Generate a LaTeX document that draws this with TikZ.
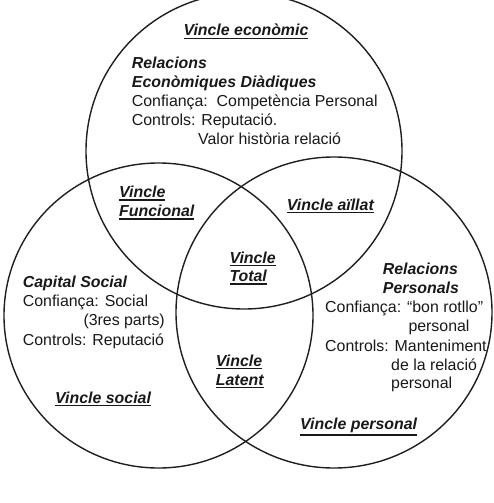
\documentclass[tikz,border=0pt]{standalone}
\usepackage{fontspec}
\setmainfont{Liberation Sans}
\newcommand\uln[1]{\leavevmode\vtop{\hbox{#1}\kern1.6pt\hrule height 1.4pt}}
\begin{document}
\begin{tikzpicture}[x=1pt,y=-1pt,
  every node/.style={inner sep=0pt, anchor=base west, text=black!90, font=\fontsize{15.9}{19}\selectfont},
  ring/.style={draw=black!88, line width=1.4pt},
  head/.style={font=\fontsize{15.9}{19}\selectfont\bfseries\itshape}]
\useasboundingbox (0,0) rectangle (493,503);
% circles
\draw[ring] (244,151) ellipse [x radius=158pt, y radius=158pt];
\draw[ring] (158.5,315.5) ellipse [x radius=154.5pt, y radius=152.5pt];
\draw[ring] (334,312.5) ellipse [x radius=158pt, y radius=155.5pt];
% top block
\node[head] (econ) at (183.3,36) {\uln{Vincle econòmic}};
\node[head] (rel1) at (131.7,68) {Relacions};
\node[head] (rel2) at (131.7,87) {Econòmiques Diàdiques};
\node (conf1) at (131.7,106) {Confiança:\ \ Competència Personal};
\node (ctrl1) at (131.7,125) {Controls: Reputació.};
\node (val1) at (198,144) {Valor història relació};
% left block
\node[head] (func1) at (119,197.7) {\uln{Vincle}};
\node[head] (func2) at (119,216.7) {\uln{Funcional}};
\node[head] (cap) at (22.7,287.3) {Capital Social};
\node (conf2) at (22.7,306.5) {Confiança: Social};
\node (parts) at (83.3,325.3) {(3res parts)};
\node (ctrl2) at (22.7,345) {Controls: Reputació};
\node[head] (soc) at (55,403.3) {\uln{Vincle social}};
% right block
\node[head] (aill) at (286.7,210) {\uln{Vincle aïllat}};
\node[head] (pers1) at (382.7,274) {Relacions};
\node[head] (pers2) at (382.7,293.3) {Personals};
\node (conf3) at (325,312.7) {Confiança: “bon rotllo”};
\node (pers3) at (408.3,331.7) {personal};
\node (ctrl3) at (325,351.7) {Controls: Manteniment};
\node (mant2) at (391,370) {de la relació};
\node (mant3) at (391,388) {personal};
\node[head] (vpers) at (300,429.3) {\uln{Vincle personal}};
% center
\node[head] (tot1) at (229.3,263.3) {\uln{Vincle}};
\node[head] (tot2) at (229.3,281.7) {\uln{Total}};
\node[head] (lat1) at (215.7,366) {\uln{Vincle}};
\node[head] (lat2) at (215.7,385) {\uln{Latent}};
\end{tikzpicture}
\end{document}
